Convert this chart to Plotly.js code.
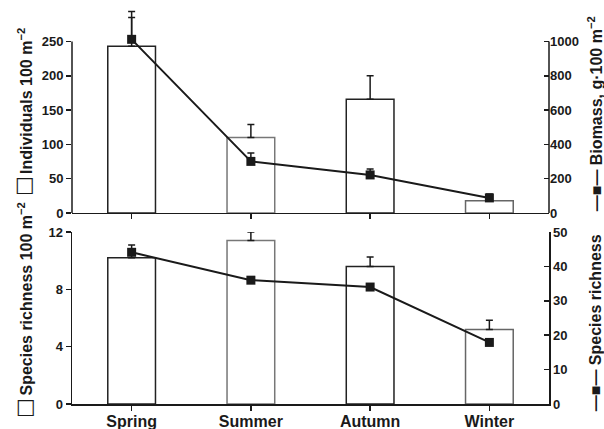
<!DOCTYPE html>
<html>
<head>
<meta charset="utf-8">
<script src="https://cdn.plot.ly/plotly-3.0.1.min.js"></script>
<style>html,body{margin:0;padding:0;background:#fff;}#chart{width:604px;height:429px;}</style>
</head>
<body>
<div id="chart"></div>
<script>
const seasons = ['Spring', 'Summer', 'Autumn', 'Winter'];
const individuals = [243, 110, 166, 18];
const individualsErr = [51, 19, 34, 0];
const biomass = [1013, 301, 222, 88];
const biomassErr = [128, 49, 35, 23];
const richness100 = [10.2, 11.4, 9.6, 5.2];
const richness100Err = [0.9, 0.6, 0.65, 0.65];
const richness = [44.1, 36.0, 34.0, 17.9];
const individualsTicks = [0, 50, 100, 150, 200, 250];
const biomassTicks = [0, 200, 400, 600, 800, 1000];

const ink = '#1a1a1a';
const outlineColors = ['#222222', '#777777', '#222222', '#666666'];
const fontFam = '"Liberation Sans", Arial, Helvetica, sans-serif';

const barStyle = {
  type: 'bar', width: 0.4, cliponaxis: false,
  marker: {color: '#ffffff', line: {color: outlineColors, width: 1.5}},
  showlegend: false, hoverinfo: 'skip'
};
const lineStyle = {
  type: 'scatter', mode: 'lines+markers', cliponaxis: false,
  line: {color: ink, width: 2},
  marker: {symbol: 'square', size: 9, color: ink},
  showlegend: false, hoverinfo: 'skip'
};
function errUp(arr) {
  return {type: 'data', symmetric: false, array: arr, arrayminus: arr.map(() => 0),
          color: ink, thickness: 1.5, width: 3.5};
}

const traces = [
  Object.assign({}, barStyle, {x: seasons, y: individuals, xaxis: 'x', yaxis: 'y', error_y: errUp(individualsErr)}),
  Object.assign({}, lineStyle, {x: seasons, y: biomass, xaxis: 'x', yaxis: 'y2', error_y: errUp(biomassErr)}),
  Object.assign({}, barStyle, {x: seasons, y: richness100, xaxis: 'x2', yaxis: 'y3', error_y: errUp(richness100Err)}),
  Object.assign({}, lineStyle, {x: seasons, y: richness, xaxis: 'x2', yaxis: 'y4'})
];

const tickFont = {family: fontFam, size: 13, color: ink, weight: 'bold'};
const axBase = {
  showgrid: false, zeroline: false, showline: true, linecolor: ink, linewidth: 1.5,
  tickcolor: ink, tickwidth: 1.5, ticklen: 5, tickfont: tickFont, fixedrange: true
};

// top panel: axis top (250 / 1000) sits at 41.5px; range extended so error bars above fit
const topMax = 300;
const topDom = [0.4728, 0.982];
const botDom = [0, 0.4257];
const titleFont = {family: fontFam, size: 16, color: ink, weight: 'bold'};
const boxFont = {family: '"DejaVu Sans", sans-serif', size: 21, color: ink};

const layout = {
  width: 604, height: 429,
  margin: {l: 72, r: 55, t: 0, b: 25},
  paper_bgcolor: '#ffffff', plot_bgcolor: '#ffffff',
  font: {family: fontFam, color: ink},
  xaxis: Object.assign({}, axBase, {anchor: 'y', domain: [0, 1], range: [-0.5, 3.5], type: 'category',
    ticks: 'outside', showticklabels: false}),
  yaxis: Object.assign({}, axBase, {anchor: 'x', domain: topDom, range: [0, topMax], tickmode: 'array',
    tickvals: individualsTicks, ticks: 'outside', showline: false}),
  yaxis2: Object.assign({}, axBase, {anchor: 'x', overlaying: 'y', side: 'right', range: [0, topMax * 4],
    tickmode: 'array', tickvals: biomassTicks, ticks: 'inside', ticklabelstandoff: 0, showline: false}),
  xaxis2: Object.assign({}, axBase, {anchor: 'y3', domain: [0, 1], range: [-0.5, 3.5], type: 'category',
    ticks: 'outside', ticklabelstandoff: -3, tickfont: {family: fontFam, size: 16, color: ink, weight: 'bold'}}),
  yaxis3: Object.assign({}, axBase, {anchor: 'x2', domain: botDom, range: [0, 12], dtick: 4, ticks: 'outside'}),
  yaxis4: Object.assign({}, axBase, {anchor: 'x2', overlaying: 'y3', side: 'right', range: [0, 50], dtick: 10,
    ticks: 'inside', ticklabelstandoff: 0}),
  shapes: [
    {type: 'line', xref: 'x domain', yref: 'y', x0: 0, x1: 0, y0: 0, y1: individualsTicks[individualsTicks.length - 1],
     line: {color: ink, width: 1.5}},
    {type: 'line', xref: 'x domain', yref: 'y2', x0: 1, x1: 1, y0: 0, y1: biomassTicks[biomassTicks.length - 1],
     line: {color: ink, width: 1.5}}
  ],
  annotations: [
    {text: '□', xref: 'paper', yref: 'paper', x: -0.1027, y: 0.5395,
     xanchor: 'center', yanchor: 'middle', textangle: -90, showarrow: false, font: boxFont},
    {text: 'Individuals 100 m<sup>−2</sup>', xref: 'paper', yref: 'paper', x: -0.0985, y: 0.5644,
     xanchor: 'center', yanchor: 'bottom', textangle: -90, showarrow: false, font: titleFont},
    {text: '□', xref: 'paper', yref: 'paper', x: -0.1006, y: -0.0099,
     xanchor: 'center', yanchor: 'middle', textangle: -90, showarrow: false, font: boxFont},
    {text: 'Species richness 100 m<sup>−2</sup>', xref: 'paper', yref: 'paper', x: -0.0985, y: 0.0148,
     xanchor: 'center', yanchor: 'bottom', textangle: -90, showarrow: false, font: titleFont},
    {text: '—■— Biomass, g·100 m<sup>−2</sup>', xref: 'paper', yref: 'paper', x: 1.098, y: 0.4728,
     xanchor: 'center', yanchor: 'bottom', textangle: -90, showarrow: false, font: titleFont},
    {text: '—■— Species richness', xref: 'paper', yref: 'paper', x: 1.098, y: -0.0223,
     xanchor: 'center', yanchor: 'bottom', textangle: -90, showarrow: false, font: titleFont}
  ]
};

Plotly.newPlot('chart', traces, layout, {displayModeBar: false, staticPlot: true});
</script>
</body>
</html>
